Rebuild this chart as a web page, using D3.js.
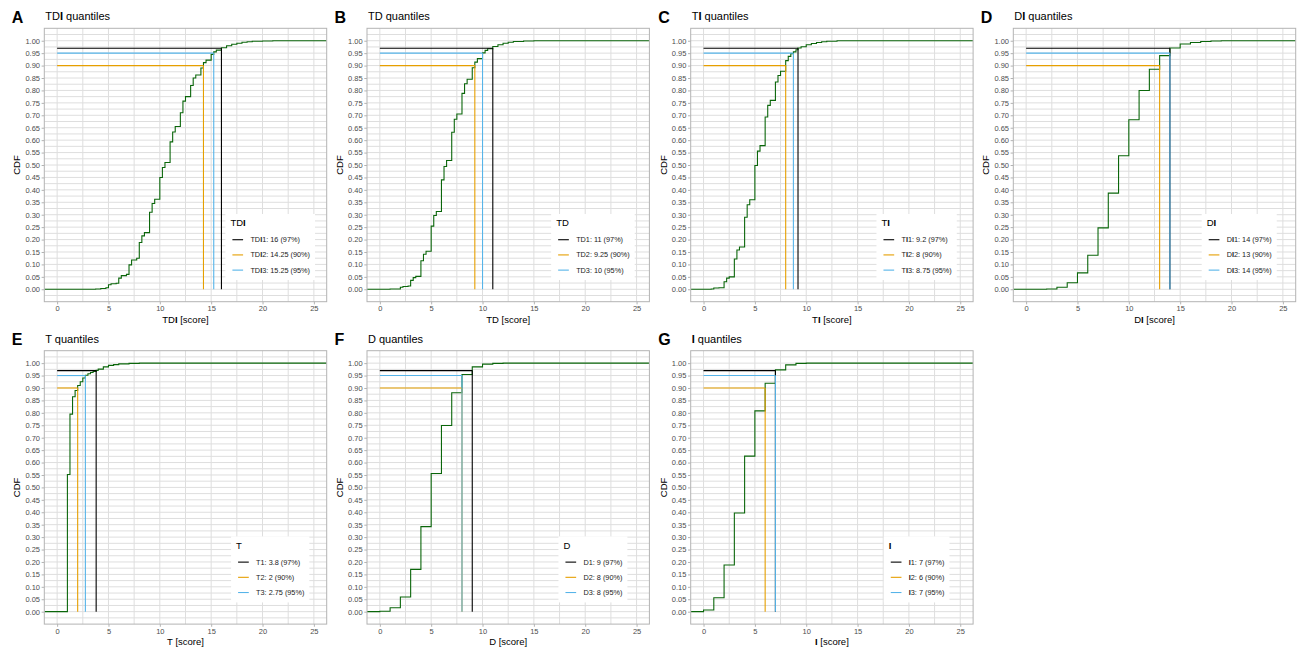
<!DOCTYPE html>
<html><head><meta charset="utf-8">
<script src="https://cdn.jsdelivr.net/npm/d3@7"></script>
<style>
body{margin:0;background:#fff}
svg{display:block}
text{font-family:"Liberation Sans",Arial,Helvetica,sans-serif}
</style>
</head><body>
<svg id="chart" width="1304" height="650"></svg>
<script>
// ---------- data ----------
const xTicks = [0, 5, 10, 15, 20, 25];
const xMinor = [2.5, 7.5, 12.5, 17.5, 22.5];
const yTicks = [0.00,0.05,0.10,0.15,0.20,0.25,0.30,0.35,0.40,0.45,0.50,0.55,0.60,0.65,0.70,0.75,0.80,0.85,0.90,0.95,1.00];
const yMinor = [-0.025,0.025,0.075,0.125,0.175,0.225,0.275,0.325,0.375,0.425,0.475,0.525,0.575,0.625,0.675,0.725,0.775,0.825,0.875,0.925,0.975,1.025];
const quantProbs = [0.97, 0.90, 0.95];
const quantColors = ["#000000", "#E69F00", "#56B4E9"];

const tdiScore = [3.75,4.25,4.75,5,5.25,5.75,6,6.25,6.75,7,7.25,7.75,8,8.25,8.5,9,9.25,9.5,10,10.25,10.5,11,11.25,11.5,12,12.25,12.5,13,13.25,13.5,14,14.25,14.5,15,15.25,15.5,16,16.5,17,17.5,18,18.5,19,20,21];
const tdiCdf   = [0.001,0.003,0.006,0.018,0.022,0.024,0.045,0.055,0.06,0.098,0.118,0.125,0.188,0.215,0.228,0.31,0.345,0.362,0.45,0.49,0.51,0.593,0.633,0.655,0.71,0.757,0.775,0.82,0.85,0.862,0.89,0.912,0.922,0.945,0.955,0.962,0.972,0.98,0.986,0.99,0.994,0.996,0.998,0.999,1.0];
const tdiQuant = [16, 14.25, 15.25];

const tdScore = [1,2,2.25,2.75,3,3.25,3.5,4,4.25,4.5,5,5.25,5.5,6,6.25,6.5,7,7.25,7.5,8,8.25,8.5,9,9.25,9.5,10,10.25,10.5,11,11.5,12,12.5,13,14,15];
const tdCdf   = [0.001,0.008,0.011,0.013,0.036,0.047,0.052,0.115,0.141,0.153,0.254,0.297,0.313,0.44,0.494,0.518,0.632,0.684,0.705,0.788,0.827,0.845,0.891,0.914,0.928,0.951,0.961,0.968,0.977,0.984,0.99,0.994,0.997,0.999,1.0];
const tdQuant = [11, 9.25, 10];

const tiScore = [0.75,1,1.5,2,2.25,2.5,3,3.25,3.5,4,4.25,4.5,5,5.25,5.5,6,6.25,6.5,7,7.25,7.5,8,8.25,8.5,8.75,9,9.2,9.5,10,10.5,11,11.5,12,13];
const tiCdf   = [0.001,0.005,0.006,0.03,0.045,0.05,0.122,0.158,0.17,0.29,0.34,0.36,0.498,0.556,0.578,0.693,0.74,0.76,0.834,0.86,0.877,0.92,0.937,0.948,0.955,0.964,0.971,0.976,0.984,0.989,0.993,0.996,0.998,1.0];
const tiQuant = [9.2, 8, 8.75];

const diScore = [2,3,4,5,6,7,8,9,10,11,12,13,14,15,16,17,18,19];
const diCdf   = [0.001,0.008,0.026,0.066,0.137,0.247,0.387,0.537,0.682,0.80,0.885,0.94,0.971,0.987,0.993,0.997,0.999,1.0];
const diQuant = [14, 13, 14];

const tScore = [1,1.25,1.5,1.75,2,2.25,2.5,2.75,3,3.25,3.5,3.8,4,4.5,5,5.5,6,7,8];
const tCdf   = [0.552,0.795,0.865,0.89,0.91,0.925,0.94,0.951,0.957,0.962,0.967,0.971,0.976,0.985,0.991,0.994,0.997,0.999,1.0];
const tQuant = [3.8, 2, 2.75];

const dScore = [0,1,2,3,4,5,6,7,8,9,10,11,12];
const dCdf   = [0.002,0.016,0.059,0.17,0.342,0.556,0.749,0.881,0.954,0.985,0.996,0.999,1.0];
const dQuant = [9, 8, 8];

const iScore = [0,1,2,3,4,5,6,7,8,9,10];
const iCdf   = [0.007,0.056,0.188,0.397,0.626,0.808,0.919,0.973,0.993,0.999,1.0];
const iQuant = [7, 6, 7];

const panelLetters = ["A","B","C","D","E","F","G"];
const panelNames   = ["TDI","TD","TI","DI","T","D","I"];
const panelScores  = [tdiScore, tdScore, tiScore, diScore, tScore, dScore, iScore];
const panelCdfs    = [tdiCdf, tdCdf, tiCdf, diCdf, tCdf, dCdf, iCdf];
const panelQuants  = [tdiQuant, tdQuant, tiQuant, diQuant, tQuant, dQuant, iQuant];

// ---------- layout ----------
const colLefts = [44.3, 367, 690.7, 1013.3];
const rowTops = [28.3, 350.7];
const PW = 282.4, PH = 273.4;
const xDomain = [-1.25, 26.25], yDomain = [-0.05, 1.05];
const gridColor = "#DEDEDE", borderColor = "#B3B3B3", tickText = "#4D4D4D";
const curveColor = "#0a660a";

const svg = d3.select("#chart");

function rich(sel, str) {
  sel.text(null);
  str.split(/(I)/).forEach(p => {
    if (!p) return;
    const t = sel.append("tspan").text(p);
    if (p === "I") t.attr("font-weight", "bold");
  });
  return sel;
}

panelNames.forEach((name, k) => {
  const col = k % 4, row = Math.floor(k / 4);
  const L = colLefts[col], T = rowTops[row];
  const x = d3.scaleLinear(xDomain, [L, L + PW]);
  const y = d3.scaleLinear(yDomain, [T + PH, T]);
  const g = svg.append("g");

  // grid
  const gg = g.append("g").attr("stroke", gridColor).attr("stroke-width", 1);
  xTicks.concat(xMinor).forEach(v => gg.append("line")
    .attr("x1", x(v)).attr("x2", x(v)).attr("y1", T).attr("y2", T + PH));
  yTicks.concat(yMinor).forEach(v => gg.append("line")
    .attr("x1", L).attr("x2", L + PW).attr("y1", y(v)).attr("y2", y(v)));

  // clip
  const cid = "clip" + k;
  svg.append("clipPath").attr("id", cid).append("rect")
    .attr("x", L).attr("y", T).attr("width", PW).attr("height", PH);

  // ECDF step curve
  const sc = panelScores[k], cd = panelCdfs[k];
  const pts = [[xDomain[0], 0]].concat(sc.map((s, i) => [s, cd[i]]), [[xDomain[1], cd[cd.length - 1]]]);
  const line = d3.line().x(d => x(d[0])).y(d => y(d[1])).curve(d3.curveStepAfter);
  g.append("path").attr("clip-path", `url(#${cid})`).attr("d", line(pts))
    .attr("fill", "none").attr("stroke", curveColor).attr("stroke-width", 1.1);

  // quantile lines
  const q = panelQuants[k];
  q.forEach((qv, i) => {
    const p = quantProbs[i];
    g.append("line").attr("x1", x(0)).attr("x2", x(qv)).attr("y1", y(p)).attr("y2", y(p))
      .attr("stroke", quantColors[i]).attr("stroke-width", 1.1);
    g.append("line").attr("x1", x(qv)).attr("x2", x(qv)).attr("y1", y(0)).attr("y2", y(p))
      .attr("stroke", quantColors[i]).attr("stroke-width", 1.1);
  });

  // legend
  const lg = g.append("g");
  const box = lg.append("rect").attr("fill", "#fff");
  const lt = lg.append("text").attr("font-size", 9.5).attr("fill", "#000");
  rich(lt, name);
  const labels = q.map((qv, i) => `${name}${i + 1}: ${qv} (${Math.round(quantProbs[i] * 100)}%)`);
  const lbls = labels.map(s => { const t = lg.append("text").attr("font-size", 7.3).attr("fill", "#1a1a1a"); rich(t, s); return t; });
  const maxW = d3.max(lbls, t => t.node().getComputedTextLength());
  const bw = 25 + maxW + 5, bh = 66;
  const bx = L + 0.8 * PW - bw / 2, by = T + 0.8 * PH - bh / 2;
  box.attr("x", bx).attr("y", by).attr("width", bw).attr("height", bh);
  lt.attr("x", bx + 5).attr("y", by + 12.3);
  lbls.forEach((t, i) => {
    const ky = by + 25.7 + i * 15.2;
    lg.append("line").attr("x1", bx + 7).attr("x2", bx + 17.7).attr("y1", ky).attr("y2", ky)
      .attr("stroke", quantColors[i]).attr("stroke-width", 1.1);
    t.attr("x", bx + 25).attr("y", ky).attr("dy", "0.35em");
  });

  // border
  g.append("rect").attr("x", L).attr("y", T).attr("width", PW).attr("height", PH)
    .attr("fill", "none").attr("stroke", borderColor).attr("stroke-width", 1);

  // axes
  const ax = g.append("g").attr("transform", `translate(0,${T + PH})`)
    .call(d3.axisBottom(x).tickValues(xTicks).tickSize(2.7).tickPadding(1.5).tickFormat(d3.format("d")));
  const ay = g.append("g").attr("transform", `translate(${L},0)`)
    .call(d3.axisLeft(y).tickValues(yTicks).tickSize(2.7).tickPadding(1.6).tickFormat(d3.format(".2f")));
  [ax, ay].forEach(a => {
    a.select(".domain").remove();
    a.selectAll(".tick line").attr("stroke", borderColor);
    a.selectAll(".tick text").attr("fill", tickText).attr("font-size", 7.5)
      .attr("font-family", '"Liberation Sans",Arial,sans-serif');
  });

  // axis titles
  rich(g.append("text").attr("x", L + PW / 2).attr("y", T + PH + 21).attr("text-anchor", "middle")
    .attr("font-size", 9.5).attr("fill", "#000"), name + " [score]");
  g.append("text").attr("transform", `translate(${L - 27.5},${T + PH / 2}) rotate(-90)`)
    .attr("text-anchor", "middle").attr("dy", "0.35em").attr("font-size", 9.5).attr("fill", "#000").text("CDF");

  // titles
  rich(g.append("text").attr("x", L + 1).attr("y", T - 8).attr("font-size", 11).attr("fill", "#000"), name + " quantiles");
  g.append("text").attr("x", L - 32.5).attr("y", T - 5.5).attr("font-size", 16).attr("font-weight", "bold")
    .attr("fill", "#000").text(panelLetters[k]);
});
</script>
</body></html>
